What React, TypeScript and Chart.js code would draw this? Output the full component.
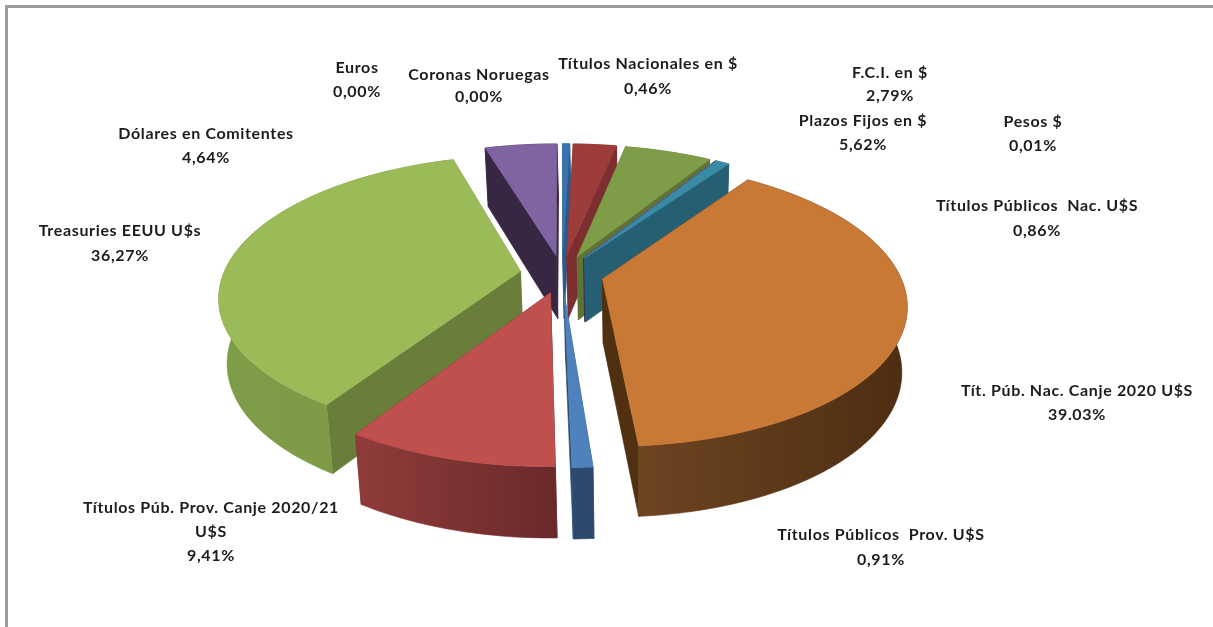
import React, { useEffect, useRef } from "react";
import { Chart, registerables } from "chart.js";

Chart.register(...registerables);

const categories = [
  "Títulos Nacionales en $", "F.C.I. en $", "Plazos Fijos en $", "Pesos $",
  "Títulos Públicos  Nac. U$S", "Tít. Púb. Nac. Canje 2020 U$S", "Títulos Públicos  Prov. U$S",
  "Títulos Púb. Prov. Canje 2020/21 U$S", "Treasuries EEUU U$s", "Dólares en Comitentes",
  "Euros", "Coronas Noruegas",
];
const shares = [0.46, 2.79, 5.62, 0.01, 0.86, 39.03, 0.91, 9.41, 36.27, 4.64, 0, 0];
const shareLabels = [
  "0,46%", "2,79%", "5,62%", "0,01%", "0,86%", "39.03%", "0,91%", "9,41%", "36,27%", "4,64%", "0,00%", "0,00%",
];

const topColors = ["#3A72AD", "#9C3D3B", "#7F9C48", "#8064A2", "#3A8CA6", "#C87936", "#4F81BD", "#BF504D", "#9BBB59", "#8063A1", "#4F81BD", "#C0504D"];
const cutColors = ["#2C5A8A", "#7C2F2E", "#5E7434", "#3A2A4A", "#265F73", "#50300F", "#2B4A6E", "#6E2B2B", "#6A7E3C", "#382742", "#2B4A6E", "#6E2B2B"];
const sideLight = ["#2C5A8A", "#7C2F2E", "#5E7434", "#3A2A4A", "#265F73", "#6E4420", "#2B4A6E", "#903C3A", "#7F9C48", "#382742", "#2B4A6E", "#6E2B2B"];
const sideDark = ["#2C5A8A", "#7C2F2E", "#5E7434", "#3A2A4A", "#265F73", "#4D2D12", "#2B4A6E", "#6A292B", "#7C9846", "#382742", "#2B4A6E", "#6E2B2B"];
const explodePx = [41, 41, 41, 41, 41, 41, 41, 41, 41.5, 41, 41, 41];

// Perspective of the tilted pie
const view = { cx: 562, cy: 274, rx: 297, ry: 136.6, k: 0.172, depth: 64, vanishX: 640, taper: 0.98 };

// Text placement for each category: centre x and the y of each line
const labelBoxes: { x: number; ys: number[]; lines?: string[] }[] = [
  { x: 648, ys: [64, 89] },
  { x: 890, ys: [73, 96] },
  { x: 863, ys: [121, 145] },
  { x: 1033, ys: [122, 146] },
  { x: 1037, ys: [206, 231] },
  { x: 1077, ys: [391, 415] },
  { x: 881, ys: [535, 560] },
  { x: 211, ys: [508, 532, 556], lines: ["Títulos Púb. Prov. Canje 2020/21", "U$S"] },
  { x: 120, ys: [231, 256] },
  { x: 206, ys: [134, 158] },
  { x: 357, ys: [68, 92] },
  { x: 479, ys: [75, 97] },
];

function project(u: number, v: number, low: boolean) {
  const s = 1 / (1 - view.k * v);
  let x = view.cx + u * view.rx * s;
  let y = view.cy + v * view.ry * s;
  if (low) {
    x = view.vanishX + (x - view.vanishX) * view.taper;
    y += view.depth * Math.sqrt(s);
  }
  return { x, y };
}

function poly(ctx: CanvasRenderingContext2D, pts: { x: number; y: number }[], fill: string | CanvasGradient) {
  ctx.beginPath();
  pts.forEach((p, i) => (i ? ctx.lineTo(p.x, p.y) : ctx.moveTo(p.x, p.y)));
  ctx.closePath();
  ctx.fillStyle = fill;
  ctx.strokeStyle = fill;
  ctx.lineWidth = 0.6;
  ctx.fill();
  ctx.stroke();
}

const tiltedPie = {
  id: "tiltedPie",
  beforeDatasetsDraw(chart: any) {
    const ctx: CanvasRenderingContext2D = chart.ctx;
    const meta = chart.getDatasetMeta(0);
    const slices = meta.data
      .map((arc: any, index: number) => ({ arc, index, mid: (arc.startAngle + arc.endAngle) / 2 }))
      .filter((s: any) => s.arc.endAngle - s.arc.startAngle > 0)
      .sort((a: any, b: any) => Math.sin(a.mid) - Math.sin(b.mid));

    for (const { arc, index, mid } of slices) {
      const e = arc.options.offset / arc.outerRadius;
      const u0 = e * Math.cos(mid);
      const v0 = e * Math.sin(mid);
      const steps = Math.max(2, Math.ceil((arc.endAngle - arc.startAngle) / 0.015));
      const rim: [number, number][] = [];
      for (let i = 0; i <= steps; i++) {
        const a = arc.startAngle + ((arc.endAngle - arc.startAngle) * i) / steps;
        rim.push([u0 + Math.cos(a), v0 + Math.sin(a)]);
      }
      const topRim = rim.map(([u, v]) => project(u, v, false));
      const lowRim = rim.map(([u, v]) => project(u, v, true));
      const apexTop = project(u0, v0, false);
      const apexLow = project(u0, v0, true);
      // cut faces
      poly(ctx, [apexTop, topRim[0], lowRim[0], apexLow], cutColors[index]);
      poly(ctx, [apexTop, topRim[steps], lowRim[steps], apexLow], cutColors[index]);
      // outer wall
      const xs = topRim.map((p) => p.x);
      const grad = ctx.createLinearGradient(Math.min(...xs), 0, Math.max(...xs), 0);
      grad.addColorStop(0, sideLight[index]);
      grad.addColorStop(1, sideDark[index]);
      poly(ctx, [...topRim, ...lowRim.slice().reverse()], grad);
      // top face
      poly(ctx, [apexTop, ...topRim], topColors[index]);
    }
    return false;
  },
  afterDraw(chart: any) {
    const ctx: CanvasRenderingContext2D = chart.ctx as any;
    ctx.save();
    ctx.font = "bold 16px Lato";
    (ctx as any).letterSpacing = "0.65px";
    ctx.fillStyle = "#1c1c1c";
    ctx.textAlign = "center";
    ctx.textBaseline = "middle";
    labelBoxes.forEach((box, i) => {
      const lines = [...(box.lines ?? [categories[i]]), shareLabels[i]];
      lines.forEach((t, j) => ctx.fillText(t, box.x, box.ys[j]));
    });
    ctx.restore();
  },
};

export default function App() {
  const ref = useRef<HTMLCanvasElement>(null);
  useEffect(() => {
    const chart = new Chart(ref.current!, {
      type: "pie",
      data: {
        labels: categories,
        datasets: [{ data: shares, backgroundColor: topColors, offset: explodePx, borderWidth: 0 }],
      },
      options: {
        animation: false,
        responsive: false,
        devicePixelRatio: 1,
        plugins: { legend: { display: false }, tooltip: { enabled: false }, title: { display: false } },
      },
      plugins: [tiltedPie],
    } as any);
    return () => chart.destroy();
  }, []);
  return (
    <div style={{ position: "fixed", left: 0, top: 0, width: 1213, height: 627, background: "#fff", overflow: "hidden" }}>
      <canvas ref={ref} width={1213} height={627} style={{ position: "absolute", left: 0, top: 0 }} />
      <div style={{ position: "absolute", left: 5, top: 5, width: 1300, height: 800, borderLeft: "3px solid #9C9CA0", borderTop: "3px solid #9C9CA0", pointerEvents: "none" }} />
    </div>
  );
}
